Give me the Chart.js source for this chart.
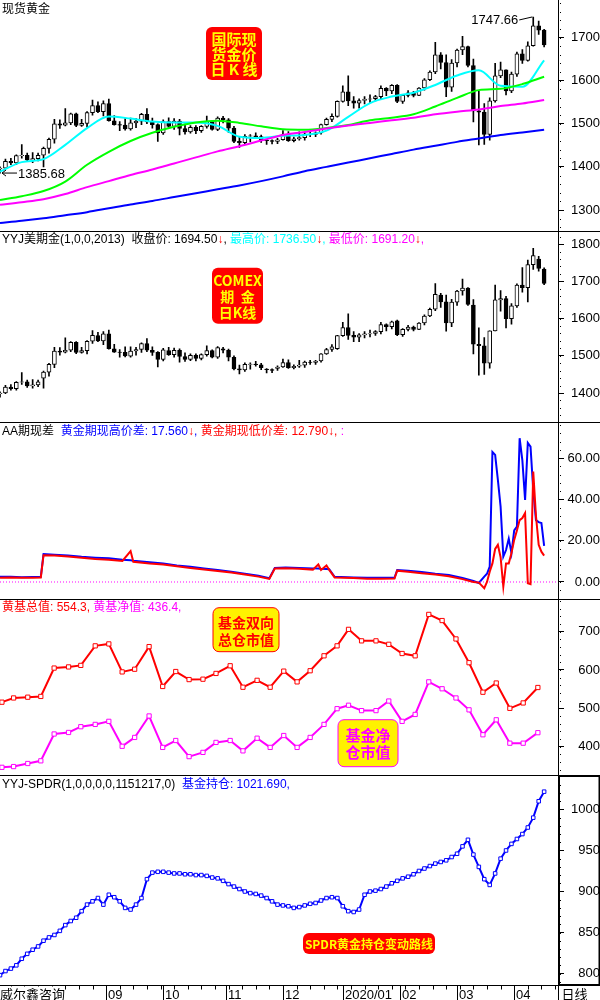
<!DOCTYPE html>
<html>
<head>
<meta charset="utf-8">
<title>现货黄金</title>
<script src="https://cdn.jsdelivr.net/npm/chart.js"></script>
<style>
  html, body { margin: 0; padding: 0; background: #fff; }
  canvas { display: block; }
</style>
</head>
<body>
<canvas id="myChart" width="600" height="1000"></canvas>
<script>
// ---- data ----
// spot gold, one bar per 2 trading days: [open, high, low, close]
const spot = [
  [1395,1400,1385.68,1397],[1397,1418,1395,1413],[1413,1420,1405,1409],[1409,1428,1405,1426],
  [1426,1452,1420,1427],[1427,1432,1412,1416],[1416,1433,1410,1419],[1419,1432,1414,1427],
  [1427,1446,1400,1443],[1443,1467,1432,1464],[1464,1510,1455,1500],[1500,1509,1489,1497],
  [1497,1535,1495,1502],[1502,1525,1498,1523],[1523,1525,1493,1496],[1496,1510,1494,1501],
  [1501,1528,1492,1526],[1526,1555,1520,1542],[1542,1551,1526,1528],[1528,1553,1518,1547],
  [1547,1557,1506,1507],[1507,1519,1497,1498],[1498,1505,1484,1497],[1497,1512,1485,1488],
  [1488,1513,1485,1502],[1502,1512,1491,1506],[1506,1524,1498,1522],[1522,1535,1500,1504],
  [1504,1513,1490,1498],[1498,1500,1459,1479],[1479,1509,1475,1505],[1505,1514,1492,1494],
  [1494,1512,1487,1506],[1506,1510,1474,1489],[1489,1499,1476,1481],[1481,1496,1478,1492],
  [1492,1496,1477,1484],[1484,1496,1480,1494],[1494,1518,1490,1505],[1505,1507,1485,1487],
  [1487,1516,1484,1513],[1513,1517,1502,1509],[1509,1512,1480,1490],[1490,1494,1456,1459],
  [1459,1469,1445,1456],[1456,1475,1452,1471],[1471,1475,1458,1472],[1472,1479,1466,1470],
  [1470,1474,1457,1462],[1462,1464,1452,1461],[1461,1463,1453,1459],[1459,1466,1454,1463],
  [1463,1484,1462,1475],[1475,1482,1459,1461],[1461,1469,1458,1465],[1465,1481,1462,1468],
  [1468,1479,1462,1476],[1476,1481,1470,1475],[1475,1481,1470,1479],[1479,1499,1476,1498],
  [1498,1513,1497,1510],[1510,1523,1505,1517],[1517,1553,1515,1552],[1552,1588,1550,1574],
  [1574,1611,1542,1553],[1553,1563,1536,1548],[1548,1558,1536,1554],[1554,1563,1546,1557],
  [1557,1567,1549,1558],[1558,1566,1553,1563],[1563,1588,1557,1582],[1582,1584,1565,1576],
  [1576,1591,1570,1589],[1589,1591,1549,1552],[1552,1568,1547,1566],[1566,1577,1562,1572],
  [1572,1575,1562,1566],[1566,1584,1565,1583],[1583,1605,1578,1602],[1602,1623,1600,1620],
  [1620,1689,1616,1660],[1660,1665,1627,1642],[1642,1660,1563,1585],[1585,1649,1575,1641],
  [1641,1673,1632,1671],[1671,1703,1660,1679],[1679,1680,1632,1635],[1635,1650,1504,1530],
  [1530,1575,1451,1527],[1527,1547,1452,1475],[1475,1560,1462,1553],[1553,1640,1550,1611],
  [1611,1643,1607,1625],[1625,1625,1567,1576],[1576,1620,1572,1615],[1615,1666,1610,1662],
  [1662,1672,1640,1647],[1647,1690,1645,1681],[1681,1747.66,1680,1727],[1727,1738,1707,1717],
  [1717,1719,1678,1683]
];
// COMEX gold, same bars
const fut = [
  [1398,1403,1389,1400],[1400,1421,1398,1416],[1416,1423,1408,1412],[1412,1431,1408,1429],
  [1429,1455,1423,1430],[1430,1435,1415,1419],[1419,1436,1413,1422],[1422,1435,1417,1430],
  [1440,1459,1413,1456],[1456,1480,1445,1477],[1477,1523,1468,1513],[1513,1522,1502,1510],
  [1510,1548,1508,1515],[1515,1538,1511,1536],[1536,1538,1506,1509],[1509,1523,1507,1514],
  [1514,1541,1505,1539],[1539,1568,1533,1555],[1554,1563,1538,1540],[1540,1565,1530,1559],
  [1559,1569,1518,1519],[1519,1531,1509,1510],[1510,1517,1496,1509],[1509,1524,1497,1500],
  [1499,1524,1496,1513],[1513,1523,1502,1517],[1517,1535,1509,1533],[1533,1546,1511,1515],
  [1515,1524,1501,1509],[1509,1511,1470,1490],[1490,1520,1486,1516],[1514,1523,1501,1503],
  [1503,1521,1496,1515],[1515,1519,1483,1498],[1498,1508,1485,1490],[1490,1505,1487,1501],
  [1501,1505,1486,1493],[1493,1505,1489,1503],[1503,1527,1499,1514],[1514,1516,1494,1496],
  [1496,1525,1493,1522],[1519,1523,1508,1515],[1515,1518,1486,1496],[1496,1500,1462,1465],
  [1465,1475,1451,1462],[1462,1481,1458,1477],[1477,1481,1464,1478],[1478,1485,1472,1476],
  [1476,1480,1463,1468],[1464,1466,1454,1463],[1463,1465,1455,1461],[1466,1473,1461,1470],
  [1470,1491,1469,1482],[1482,1489,1466,1468],[1468,1476,1465,1472],[1472,1488,1469,1475],
  [1475,1486,1469,1483],[1483,1488,1477,1482],[1482,1488,1477,1486],[1486,1506,1483,1505],
  [1505,1520,1504,1517],[1517,1530,1512,1524],[1519,1555,1517,1554],[1554,1590,1552,1576],
  [1576,1613,1544,1555],[1555,1565,1538,1550],[1550,1560,1538,1556],[1556,1565,1548,1559],
  [1559,1569,1551,1560],[1560,1568,1555,1565],[1565,1590,1559,1584],[1584,1586,1567,1578],
  [1578,1593,1572,1591],[1594,1596,1554,1557],[1557,1573,1552,1571],[1571,1582,1567,1577],
  [1577,1580,1567,1571],[1571,1589,1570,1588],[1588,1610,1583,1607],[1607,1628,1605,1625],
  [1625,1694,1621,1665],[1663,1668,1630,1645],[1645,1663,1566,1588],[1588,1652,1578,1644],
  [1644,1676,1635,1674],[1674,1706,1663,1682],[1682,1683,1635,1638],[1636,1651,1505,1531],
  [1531,1575,1448,1527],[1527,1549,1450,1480],[1480,1567,1467,1567],[1567,1690,1567,1650],
  [1650,1675,1620,1654],[1654,1660,1575,1600],[1600,1640,1585,1634],[1634,1693,1630,1690],
  [1690,1737,1671,1683],[1683,1757,1645,1745],[1745,1788.8,1732,1769],[1760,1767,1727,1735],
  [1733,1736.5,1691.2,1694.5]
];

// moving averages on the spot chart (trading-day index)
const maDays = [0,8,16,24,32,40,48,56,64,72,80,88,96,104,112,120,128,136,144,152,160,168,176,184,192,200];
const maCyan = [1389,1411,1418,1451,1490,1517,1512,1505,1503,1503,1495,1470,1467,1472,1474,1484,1516,1548,1563,1572,1590,1612,1624,1588,1586,1647];
const maGreen = [1323,1332,1344,1366,1405,1435,1460,1479,1493,1503,1507,1502,1494,1487,1486,1490,1497,1508,1514,1522,1540,1560,1578,1581,1592,1609];
const maMagenta = [1312,1318,1325,1337,1353,1367,1381,1394,1408,1422,1436,1448,1461,1474,1481,1489,1496,1502,1508,1514,1522,1528,1533,1541,1547,1555];
const maBlue = [1270,1275,1281,1288,1295,1304,1313,1321,1330,1339,1348,1357,1367,1378,1390,1400,1410,1420,1430,1440,1449,1458,1466,1474,1480,1486];

// futures minus spot
const spreadDays = [0,4,8,12,15,16,20,25,30,35,40,45,48,49,55,60,65,70,75,80,85,90,95,99,101,105,110,115,117,118,120,121,123,130,135,140,145,146,150,155,160,165,170,174,176,
  178,179,180,181,182,183,184,185,186,187,188,189,190,191,192,193,194,195,196,197,198,199,200];
const spreadHigh = [2.5,2.5,2.3,2.4,2.5,13.5,13.2,12.8,12.2,11.8,11.5,10.8,10.5,10.3,9.6,9.0,8.0,7.4,6.6,5.8,5.0,4.0,3.0,1.8,6.8,7.0,6.8,6.6,6.5,6.4,6.3,6.2,2.5,2.2,2.0,2.0,2.0,5.8,5.4,4.8,4.0,3.4,2.0,0.5,-0.5,
  2.6,4.0,7.4,63,61.6,49.5,36.5,12.3,15.5,21,14,25,26.8,69.7,59,39.8,67.4,65.6,44.6,30,29,28.6,17.56];
const spreadLow = [2.0,2.2,2.0,2.0,2.2,13.0,12.8,12.3,11.8,11.2,10.8,10.2,15.0,9.8,9.0,8.5,7.6,6.8,6.0,5.3,4.6,3.6,2.6,1.5,6.5,6.6,6.4,6.0,8.5,5.8,8.0,5.9,2.2,1.9,1.6,1.6,1.7,5.5,5.0,4.2,3.6,2.8,1.4,0.0,-0.3,
  -3,0,5,9,16,18,12,-2.3,9,9,14,20.4,25,30,31,33.4,-0.6,-1,53.5,32,18,14.7,12.79];
const zeroDays = [0, 205];
const zeroLine = [0, 0];

// fund positions, weekly
const fundDays = [0.7,5,10.2,15,19.9,25.2,29.7,35,40,44.9,49.5,54.8,59.8,64.6,69.5,74.6,79.4,84.6,89.3,94.5,99.3,104.3,109.2,114,119.1,123.9,128.1,132.9,138.2,142.9,147.8,152.6,157.6,162.5,167.6,172.4,177.5,182.4,187.4,192.3,197.7];
const fundTotal = [516,527,529,531,605,608,612,663,668,595,602,661,557,596,575,576,591,611,555,573,555,597,569,598,637,663,706,676,676,667,643,637,745,729,681,619,542,566,500,514,554.3];
const fundNet = [346,348,356,363,433,437,452,458,466,401,424,480,398,416,374,385,411,416,389,422,398,429,398,424,458,499,508,494,494,519,466,484,569,551,527,496,431,470,409,409,436.4];

// SPDR holdings, same bars as the candles
const spdr = [798,803,806,810,818,824,829,833,840,844,847,852,859,864,868,876,884,888,892,884,
  896,893,888,880,878,884,892,915,923,924,924,923,922,922,921,921,920,920,919,917,
  916,913,909,906,903,900,898,897,895,892,888,884,883,882,880,881,883,885,886,889,
  892,893,892,882,876,875,878,896,900,901,903,906,910,913,916,918,921,925,928,931,
  934,936,938,942,946,955,963,945,930,915,908,922,940,950,958,964,970,978,990,1010,1021.69];

// month ticks on the bottom axis
const monthDays = [39, 60, 83, 104, 126, 147, 168, 189];
const monthLabels = ['09', '10', '11', '12', '2020/01', '02', '03', '04'];

const box1Text = ['国际现', '货金价', '日 K 线'];
const box2Text = ['COMEX', '期  金', '日K线'];
const box3Text = ['基金双向', '总仓市值'];
const box4Text = ['基金净', '仓市值'];
const box5Text = ['SPDR黄金持仓变动路线'];

// ---- chart ----
const RED = '#FF0000', BLUE = '#0000FF', CYAN = '#00FFFF', MAG = '#FF00FF', GREEN = '#00FF00';
const FONT = '"Liberation Sans", "DejaVu Sans", "Noto Sans CJK SC", sans-serif';
Chart.defaults.font.family = FONT;

const barDays = spot.map((b, i) => i * 2);

function candleSets(rows, axis) {
  return [
    { type: 'bar', yAxisID: axis, order: 3, grouped: false, barThickness: 1, backgroundColor: '#000',
      data: rows.map((b, i) => ({ x: barDays[i], y: [b[2], b[1]] })) },
    { type: 'bar', yAxisID: axis, order: 2, grouped: false, barThickness: 4,
      backgroundColor: rows.map(b => b[3] >= b[0] ? '#fff' : '#000'),
      borderColor: '#000', borderWidth: 1, borderSkipped: false,
      data: rows.map((b, i) => ({ x: barDays[i], y: [b[0], b[3]] })) }
  ];
}

function lineSet(axis, xs, ys, color, extra) {
  return Object.assign({
    type: 'line', yAxisID: axis, order: 0, borderColor: color, borderWidth: 2,
    pointRadius: 0, fill: false, data: xs.map((d, i) => ({ x: d, y: ys[i] }))
  }, extra || {});
}

function yAxis(min, max, step, weight, pad, digits) {
  return {
    type: 'linear', position: 'right', stack: 'panels', stackWeight: weight,
    min: min, max: max, offset: false,
    border: { display: true, color: '#000', width: 1 },
    grid: { drawOnChartArea: false, drawTicks: true, tickLength: 6, color: '#000' },
    ticks: { stepSize: step, includeBounds: false, crossAlign: 'far', padding: pad, color: '#000',
      font: { size: 13 }, callback: v => v.toFixed(digits) },
    afterFit: s => { s.width = 42; s.paddingTop = 0; s.paddingBottom = 0; }
  };
}

const smooth = { tension: 0.4, cubicInterpolationMode: 'monotone' };
const squares = c => ({ pointRadius: 3, pointStyle: 'rect', pointBackgroundColor: '#fff', pointBorderColor: c, pointBorderWidth: 1 });

const datasets = [].concat(
  candleSets(spot, 'p1'),
  [lineSet('p1', maDays, maBlue, BLUE, smooth),
   lineSet('p1', maDays, maMagenta, MAG, smooth),
   lineSet('p1', maDays, maGreen, GREEN, smooth),
   lineSet('p1', maDays, maCyan, CYAN, smooth)],
  candleSets(fut, 'p2'),
  [lineSet('p3', zeroDays, zeroLine, MAG, { borderWidth: 1, borderDash: [1, 2] }),
   lineSet('p3', spreadDays, spreadHigh, BLUE),
   lineSet('p3', spreadDays, spreadLow, RED, { order: -1 }),
   lineSet('p4', fundDays, fundTotal, RED, squares(RED)),
   lineSet('p4', fundDays, fundNet, MAG, squares(MAG)),
   lineSet('p5', barDays, spdr, BLUE, Object.assign(squares(BLUE), { pointRadius: 2.5 }))]
);

function drawRuns(ctx, runs, x, y) {
  ctx.font = '12px ' + FONT;
  ctx.textAlign = 'left';
  ctx.textBaseline = 'alphabetic';
  for (const [t, c] of runs) {
    ctx.fillStyle = c;
    ctx.fillText(t, x, y);
    x += ctx.measureText(t).width;
  }
}

function textBox(ctx, x, y, w, h, fill, stroke, lines, color, font, lh) {
  ctx.beginPath();
  ctx.roundRect(x, y, w, h, 6);
  ctx.fillStyle = fill;
  ctx.fill();
  if (stroke) { ctx.strokeStyle = stroke; ctx.lineWidth = 1; ctx.stroke(); }
  ctx.fillStyle = color;
  ctx.font = font;
  ctx.textAlign = 'center';
  ctx.textBaseline = 'middle';
  const cy = y + h / 2 - (lines.length - 1) * lh / 2;
  lines.forEach((t, i) => ctx.fillText(t, x + w / 2, cy + i * lh + 1));
}

const decor = {
  id: 'decor',
  afterDraw(chart) {
    const ctx = chart.ctx, xs = chart.scales.x, a = chart.chartArea;
    const ids = ['p1', 'p2', 'p3', 'p4', 'p5'];
    const P = ids.map(id => chart.scales[id]);
    const minor = [20, 20, 4, 20, 10];
    const xr = Math.round(a.right) + 0.5;
    ctx.save();

    // panel separators and right edge
    ctx.strokeStyle = '#000';
    ctx.lineWidth = 1;
    ctx.beginPath();
    P.slice(1).forEach(s => { const y = Math.round(s.top) + 0.5; ctx.moveTo(0, y); ctx.lineTo(600, y); });
    const yb = Math.round(a.bottom) + 0.5;
    ctx.moveTo(0, yb); ctx.lineTo(600, yb);
    ctx.moveTo(xr, 0); ctx.lineTo(xr, 1000);
    ctx.stroke();

    // minor dots on the value axes
    ctx.fillStyle = '#000';
    P.forEach((s, i) => {
      const st = minor[i];
      for (let v = Math.ceil(s.min / st) * st; v <= s.max; v += st) {
        const y = Math.round(s.getPixelForValue(v));
        if (y > s.top + 2 && y < s.bottom - 2) ctx.fillRect(xr + 1.5, y, 1, 1);
      }
    });

    // selected panel box around the SPDR axis
    const s5 = P[4];
    ctx.lineWidth = 2;
    ctx.strokeRect(xr + 0.5, Math.round(s5.top) + 1, 599 - xr, Math.round(s5.bottom - s5.top) - 1);

    // titles
    const f = fut[fut.length - 1];
    const arrow = '\u2193';
    drawRuns(ctx, [['现货黄金', '#000']], 2, P[0].top + 13);
    drawRuns(ctx, [['YYJ美期金(1,0,0,2013)  收盘价: ' + f[3].toFixed(2), '#000'], [arrow, RED], [', ', '#000'],
      ['最高价: ' + f[1].toFixed(2), CYAN], [arrow, RED], [', ', CYAN],
      ['最低价: ' + f[2].toFixed(2), MAG], [arrow, RED], [',', MAG]], 2, P[1].top + 12);
    drawRuns(ctx, [['AA期现差  ', '#000'], ['黄金期现高价差: ' + spreadHigh[spreadHigh.length - 1].toFixed(3), BLUE],
      [arrow, RED], [', ', BLUE], ['黄金期现低价差: ' + spreadLow[spreadLow.length - 1].toFixed(3), RED],
      [arrow, RED], [', ', RED], [':', MAG]], 2, P[2].top + 13);
    drawRuns(ctx, [['黄基总值: ' + fundTotal[fundTotal.length - 1].toFixed(1) + ', ', RED],
      ['黄基净值: ' + fundNet[fundNet.length - 1].toFixed(1) + ',', MAG]], 2, P[3].top + 12);
    drawRuns(ctx, [['YYJ-SPDR(1,0,0,0,0,1151217,0)  ', '#000'],
      ['基金持仓: ' + spdr[spdr.length - 1].toFixed(3) + ',', BLUE]], 2, P[4].top + 13);

    // boxes
    const cj = '"Noto Sans CJK SC", sans-serif';
    textBox(ctx, 206, P[0].top + 27, 56, 53, RED, null, box1Text, '#FFFF00', 'bold 15px ' + cj, 15);
    textBox(ctx, 212, P[1].top + 37, 51, 56, RED, null, box2Text, '#FFFF00', 'bold 14px ' + cj, 16);
    textBox(ctx, 213, P[3].top + 9, 66, 44, '#FFF200', RED, box3Text, RED, 'bold 14px ' + cj, 17);
    textBox(ctx, 338, P[3].top + 121, 60, 47, '#FFF200', MAG, box4Text, MAG, 'bold 15px ' + cj, 17);
    textBox(ctx, 303, P[4].top + 158, 132, 21, RED, null, box5Text, '#FFFF00', 'bold 12px ' + cj, 14);

    // highest / lowest price marks on spot chart
    const highs = spot.map(b => b[1]), lows = spot.map(b => b[2]);
    const hi = highs.indexOf(Math.max(...highs)), lo = lows.indexOf(Math.min(...lows));
    ctx.font = '13px ' + FONT;
    ctx.fillStyle = '#000';
    ctx.strokeStyle = '#000';
    ctx.lineWidth = 1;
    let px = xs.getPixelForValue(barDays[hi]), py = P[0].getPixelForValue(highs[hi]);
    ctx.beginPath(); ctx.moveTo(px - 1, py); ctx.lineTo(px - 14, py + 3); ctx.stroke();
    ctx.textAlign = 'right'; ctx.textBaseline = 'middle';
    ctx.fillText(highs[hi].toFixed(2), px - 15, py + 3);
    px = xs.getPixelForValue(barDays[lo]) + 2; py = P[0].getPixelForValue(lows[lo]);
    ctx.beginPath(); ctx.moveTo(px, py); ctx.lineTo(px + 15, py);
    ctx.moveTo(px + 4, py - 3); ctx.lineTo(px, py); ctx.lineTo(px + 4, py + 3); ctx.stroke();
    ctx.textAlign = 'left';
    ctx.fillText(lows[lo].toFixed(2), px + 16, py + 1);

    // bottom time axis
    ctx.beginPath();
    for (let d = 4; d < xs.max; d += 5) {
      const x = Math.round(xs.getPixelForValue(d)) + 0.5;
      ctx.moveTo(x, yb); ctx.lineTo(x, yb + 4);
    }
    monthDays.forEach(d => {
      const x = Math.round(xs.getPixelForValue(d)) + 0.5;
      ctx.moveTo(x, yb); ctx.lineTo(x, 1000);
    });
    ctx.stroke();
    ctx.fillStyle = '#fff';
    ctx.fillRect(0, yb + 1, 60, 14);
    ctx.fillStyle = '#000';
    ctx.font = '13px ' + FONT;
    ctx.textAlign = 'left';
    ctx.textBaseline = 'alphabetic';
    monthDays.forEach((d, i) => ctx.fillText(monthLabels[i], Math.round(xs.getPixelForValue(d)) + 2, 999));
    ctx.fillText('威尔鑫咨询', 0, 999);
    ctx.fillText('日线', xr + 3, 999);
    ctx.restore();
  }
};

new Chart(document.getElementById('myChart').getContext('2d'), {
  type: 'bar',
  data: { datasets: datasets },
  options: {
    responsive: false,
    animation: false,
    devicePixelRatio: 1,
    layout: { autoPadding: false, padding: { top: 0, left: 0, right: 0, bottom: 15 } },
    plugins: { legend: { display: false }, tooltip: { enabled: false } },
    scales: {
      x: { type: 'linear', min: 0, max: 205.1, offset: false, display: false },
      p1: yAxis(1252, 1787, 100, 230.7, 4, 0),
      p2: yAxis(1323, 1836, 100, 191, 4, 0),
      p3: yAxis(-8.1, 77.7, 20, 177, 1, 2),
      p4: yAxis(326, 786, 100, 176.3, 11, 0),
      p5: yAxis(786, 1042, 50, 210, 4, 0)
    }
  },
  plugins: [decor]
});
</script>
</body>
</html>
